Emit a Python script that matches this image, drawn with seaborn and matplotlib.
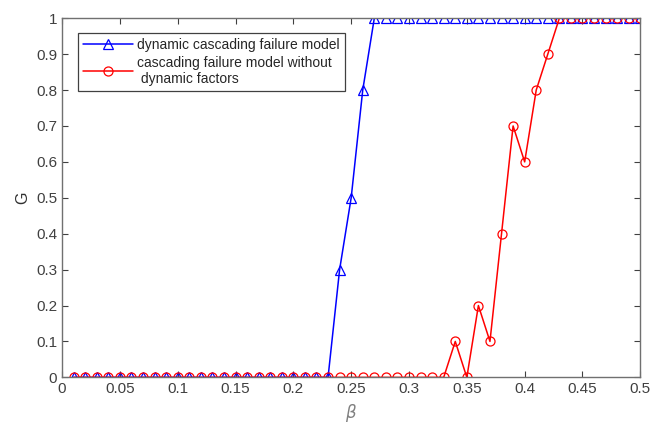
import numpy as np
import pandas as pd
import matplotlib
matplotlib.use("Agg")
import matplotlib.pyplot as plt
import seaborn as sns

beta = [round(0.01 * i, 2) for i in range(1, 51)]
g_dynamic = [0.0] * 23 + [0.3, 0.5, 0.8] + [1.0] * 24
g_static = [0.0] * 33 + [0.1, 0.0, 0.2, 0.1, 0.4, 0.7, 0.6, 0.8, 0.9] + [1.0] * 8

label_dyn = "dynamic cascading failure model"
label_sta = "cascading failure model without\n dynamic factors"

df = pd.DataFrame({"beta": beta, "dyn": g_dynamic, "sta": g_static})

sns.set_style("white")
plt.rcParams['font.family'] = ['Liberation Sans', 'DejaVu Sans']

fig, ax = plt.subplots(figsize=(6.67, 4.24), dpi=100)
fig.subplots_adjust(left=0.093, right=0.96, top=0.957, bottom=0.11)

sns.lineplot(data=df, x="beta", y="dyn", ax=ax, color="blue", marker="^", markersize=6.5,
             markerfacecolor="none", markeredgecolor="blue", markeredgewidth=0.9,
             linewidth=1.1, label=label_dyn)
sns.lineplot(data=df, x="beta", y="sta", ax=ax, color="red", marker="o", markersize=6.5,
             markerfacecolor="none", markeredgecolor="red", markeredgewidth=0.9,
             linewidth=1.1, label=label_sta)

ax.set_xlim(0, 0.5)
ax.set_ylim(0, 1)
ax.set_xticks(np.arange(0, 0.51, 0.05))
ax.set_xticklabels(["0", "0.05", "0.1", "0.15", "0.2", "0.25", "0.3", "0.35", "0.4", "0.45", "0.5"])
ax.set_yticks(np.arange(0, 1.01, 0.1))
ax.set_yticklabels(["0", "0.1", "0.2", "0.3", "0.4", "0.5", "0.6", "0.7", "0.8", "0.9", "1"])
ax.tick_params(direction="in", length=4, width=0.8, colors="#404040", labelsize=11,
               top=True, right=True, bottom=True, left=True)
for s in ax.spines.values():
    s.set_color("#707070")
    s.set_linewidth(1.0)
    s.set_visible(True)

ax.set_xlabel(r"$\beta$", fontsize=12, color="#808080")
ax.set_ylabel("G", fontsize=11.5, color="#303030")

leg = ax.legend(loc="upper left", bbox_to_anchor=(0.028, 0.958), borderaxespad=0,
                frameon=True, fancybox=False, framealpha=1, edgecolor="#404040",
                fontsize=10, handlelength=3.6, borderpad=0.35,
                labelspacing=0.25, handletextpad=0.3)
leg.get_frame().set_linewidth(0.9)

fig.savefig("out.png", dpi=100)
